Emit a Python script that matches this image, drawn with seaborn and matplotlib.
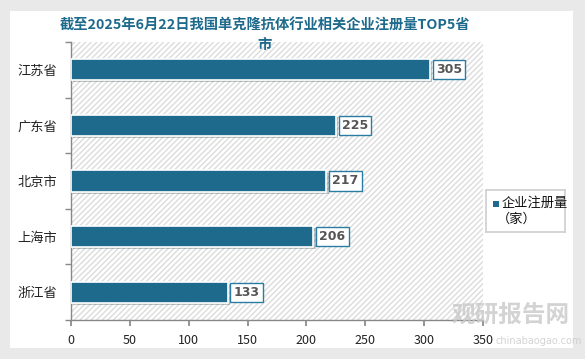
import numpy as np
import pandas as pd
import matplotlib
matplotlib.use("Agg")
import matplotlib.pyplot as plt
import seaborn as sns
from matplotlib.patches import Rectangle
import matplotlib.patheffects as pe

provinces = ["江苏省", "广东省", "北京市", "上海市", "浙江省"]
counts = [305, 225, 217, 206, 133]
x_ticks = [0, 50, 100, 150, 200, 250, 300, 350]

title = "截至2025年6月22日我国单克隆抗体行业相关企业注册量TOP5省\n市"
legend_label = "企业注册量"
legend_unit = "（家）"
bar_color = "#1d6a8c"

sns.set_theme(style="white")
plt.rcParams["font.family"] = ["Noto Sans CJK SC", "DejaVu Sans"]

df = pd.DataFrame({"province": provinces, "count": counts})

fig = plt.figure(figsize=(5.85, 3.59), dpi=100)
fig.patch.set_facecolor("#e9e9e9")
# white card behind everything
card = Rectangle((10 / 585, 11 / 359), 563 / 585, 337 / 359, transform=fig.transFigure,
                 facecolor="white", edgecolor="none", zorder=-10)
fig.patches.append(card)

ax = fig.add_axes([71 / 585, 39 / 359, 412 / 585, 278 / 359])
ax.set_facecolor("none")

# hatched plot background
ax.add_patch(Rectangle((0, 0), 1, 1, transform=ax.transAxes, facecolor="white",
                       edgecolor="#dcdcdc", hatch="//////", linewidth=0, zorder=0))

sns.barplot(data=df, x="count", y="province", color=bar_color, width=0.38,
            edgecolor="white", linewidth=1.2, saturation=1, ax=ax, zorder=3)
for p in ax.patches[1:]:
    p.set_path_effects([pe.SimplePatchShadow(offset=(1.5, -1.5), alpha=0.25), pe.Normal()])

for i, v in enumerate(counts):
    ax.text(v + 5, i, str(v), va="center", ha="left", fontsize=9, color="#555555",
            fontweight="bold", family="DejaVu Sans", zorder=5,
            bbox=dict(boxstyle="square,pad=0.25", facecolor="white", edgecolor="#2a7ca3",
                      linewidth=1))

ax.set_xlim(0, 350)
ax.set_ylim(4.5, -0.5)
ax.set_xticks(x_ticks)
ax.set_xticklabels([str(t) for t in x_ticks], fontsize=9, color="#222222")
ax.set_yticks(range(len(provinces)))
ax.set_yticklabels(provinces, fontsize=9.5, color="#222222")
ax.set_yticks(np.arange(-0.5, 5, 1), minor=True)
ax.tick_params(axis="y", which="major", length=0, pad=10)
ax.tick_params(axis="y", which="minor", length=4, color="#888888", direction="out", left=True)
ax.tick_params(axis="x", length=4, color="#888888", direction="out", bottom=True, pad=6)
ax.set_xlabel("")
ax.set_ylabel("")
for s in ["top", "right"]:
    ax.spines[s].set_visible(False)
for s in ["left", "bottom"]:
    ax.spines[s].set_color("#888888")
    ax.spines[s].set_linewidth(1)

fig.text(265 / 585, 1 - 19 / 359, title, ha="center", va="top", fontsize=10.3,
         fontweight="bold", color="#1d6a8c", linespacing=1.4, zorder=6)

# legend
leg_ax = fig.add_axes([486 / 585, 1 - 232 / 359, 79 / 585, 42 / 359])
leg_ax.set_xlim(0, 1)
leg_ax.set_ylim(0, 1)
leg_ax.set_xticks([])
leg_ax.set_yticks([])
for s in leg_ax.spines.values():
    s.set_color("#d0d0d0")
leg_ax.add_patch(Rectangle((0.09, 0.6), 0.07, 0.14, facecolor=bar_color, edgecolor="none"))
leg_ax.text(0.2, 0.68, legend_label, va="center", ha="left", fontsize=9.5, color="#111111")
leg_ax.text(0.14, 0.3, legend_unit, va="center", ha="left", fontsize=9.5, color="#111111")

# watermark
fig.text(570 / 585, 1 - 315 / 359, "观研报告网", ha="right", va="center", fontsize=17,
         fontweight="bold", color="#c8c8c8", alpha=0.8)
fig.text(496 / 585, 1 - 341 / 359, "chinabaogao.com", ha="left", va="center", fontsize=7,
         color="#c8c8c8", alpha=0.8, family="DejaVu Sans")

fig.savefig("out.png", dpi=100, facecolor=fig.get_facecolor())
